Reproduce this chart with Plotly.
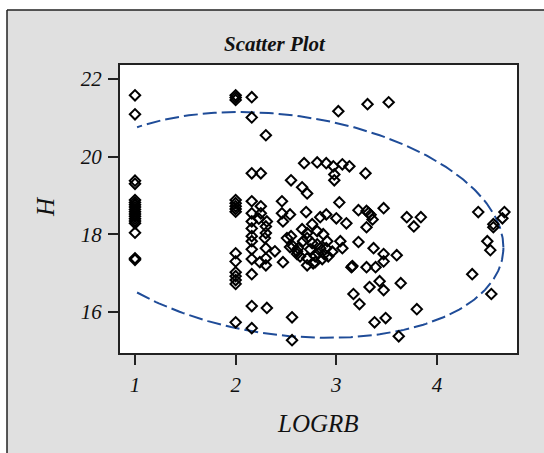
import numpy as np
import plotly.graph_objects as go

# ---- data ----
logrb = (
    [1.0] * 18
    + [2.0] * 15
    + [2.16] * 14
    + [2.25, 2.25, 2.25, 2.23, 2.24]
    + [2.3, 2.31, 2.3, 2.3, 2.29, 2.3, 2.3, 2.3, 2.31]
    + [2.39, 2.46, 2.46, 2.47, 2.47]
    + [2.55, 2.54, 2.55, 2.51, 2.56, 2.56, 2.54]
    + [2.66, 2.71, 2.68, 2.7, 2.66, 2.71, 2.71, 2.67, 2.57, 2.62, 2.61, 2.64, 2.71, 2.71, 2.61, 2.74]
    + [2.76, 2.76, 2.81, 2.79, 2.84, 2.88, 2.91, 2.9, 2.82, 2.77, 2.86, 2.92, 2.81, 2.84, 2.9,
       2.81, 2.9, 2.97, 2.98, 2.98, 2.79, 2.96, 2.87]
    + [3.06, 3.13, 3.03, 3.0, 3.1, 3.04, 3.06, 3.16, 3.02, 3.17, 3.23, 3.22, 3.22, 3.15]
    + [3.29, 3.31, 3.52, 3.3, 3.32, 3.34, 3.47, 3.36, 3.3, 3.37, 3.47, 3.47, 3.3, 3.39, 3.43,
       3.33, 3.47, 3.38, 3.49]
    + [3.7, 3.84, 3.77, 3.6, 3.64, 3.8, 3.62]
    + [4.41, 4.67, 4.65, 4.56, 4.56, 4.5, 4.53, 4.35, 4.54]
)
h = (
    [21.58, 21.09, 19.38, 19.30, 18.88, 18.82, 18.76, 18.70, 18.64, 18.58, 18.52, 18.46,
     18.40, 18.34, 18.28, 18.04, 17.38, 17.34]
    + [21.58, 21.52, 21.46, 18.88, 18.80, 18.72, 18.65, 18.58, 17.51, 17.30, 17.02, 16.92,
       16.82, 16.72, 15.73]
    + [21.53, 21.01, 19.57, 18.85, 18.54, 18.33, 18.15, 17.95, 17.82, 17.61, 17.36, 16.97,
       16.15, 15.58]
    + [19.57, 18.72, 18.54, 18.40, 17.28]
    + [20.55, 18.33, 18.2, 18.03, 17.9, 17.64, 17.38, 17.2, 16.1]
    + [17.56, 18.85, 18.54, 18.33, 17.28]
    + [19.39, 18.51, 17.95, 17.9, 15.86, 15.27, 17.67]
    + [19.21, 19.05, 19.83, 18.57, 18.13, 18.03, 17.9, 17.82, 17.69, 17.64, 17.56, 17.43,
       17.38, 17.2, 17.49, 17.61]
    + [18.26, 17.77, 17.74, 17.43, 17.64, 17.49, 17.82, 17.64, 17.51, 17.25, 17.36, 17.43,
       18.08, 18.44, 18.51, 19.85, 19.83, 19.75, 19.54, 19.39, 17.28, 17.55, 18.0]
    + [19.8, 19.75, 18.82, 18.41, 18.28, 17.82, 17.64, 17.18, 21.17, 16.46, 16.2, 18.62,
       17.8, 17.15]
    + [19.57, 21.35, 21.4, 18.6, 18.55, 18.5, 18.67, 18.38, 18.18, 17.64, 17.49, 17.3,
       17.15, 17.15, 16.79, 16.64, 16.56, 15.73, 15.84]
    + [18.44, 18.44, 18.2, 17.46, 16.74, 16.07, 15.37]
    + [18.57, 18.57, 18.41, 18.26, 18.18, 17.82, 17.59, 16.97, 16.46]
)

x_ticks = [1, 2, 3, 4]
y_ticks = [16, 18, 20, 22]

# prediction ellipse parameters
ell_center = [2.475, 18.24]
ell_cov = [[4.774, -1.27], [-1.27, 8.468]]

# ---- ellipse geometry ----
t = np.linspace(0, 2 * np.pi, 400)
sxx, sxy, syy = ell_cov[0][0], ell_cov[0][1], ell_cov[1][1]
l11 = np.sqrt(sxx)
l21 = sxy / l11
l22 = np.sqrt(syy - l21 ** 2)
ex = ell_center[0] + l11 * np.cos(t)
ey = ell_center[1] + l21 * np.cos(t) + l22 * np.sin(t)
xmin = min(logrb)
ex_l = [v if v >= xmin else None for v in ex]
ey_l = [w if xv >= xmin else None for w, xv in zip(ey, ex)]

SERIF = "Liberation Serif"
GRAY = "#e0e0e0"

fig = go.Figure()
fig.add_trace(go.Scatter(
    x=ex_l, y=ey_l, mode="lines", connectgaps=False,
    line=dict(color="#1f4c98", width=2, dash="14px,5px"),
    hoverinfo="skip", showlegend=False,
))
fig.add_trace(go.Scatter(
    x=logrb, y=h, mode="markers",
    marker=dict(symbol="diamond-open", size=8, color="black", line=dict(width=2, color="black")),
    showlegend=False,
))

W, H = 544, 453
L, R, T, B = 120, 27, 65, 100
pw, ph = W - L - R, H - T - B


def px(xp):
    return (xp - L) / pw


def py(yp):
    return (H - B - yp) / ph


fig.update_layout(
    width=W, height=H,
    margin=dict(l=L, r=R, t=T, b=B),
    paper_bgcolor=GRAY, plot_bgcolor="white",
    xaxis=dict(range=[0.851, 4.795], tickvals=x_ticks, showgrid=False, zeroline=False,
               showline=True, mirror=True, linecolor="#222", linewidth=2,
               ticks="outside", ticklen=10, tickwidth=2, tickcolor="#222",
               ticklabelstandoff=2,
               tickfont=dict(family=SERIF, size=21, color="#111", style="italic")),
    yaxis=dict(range=[14.94, 22.36], tickvals=y_ticks, showgrid=False, zeroline=False,
               showline=True, mirror=True, linecolor="#222", linewidth=2,
               ticks="outside", ticklen=10, tickwidth=2, tickcolor="#222",
               ticklabelstandoff=2,
               tickfont=dict(family=SERIF, size=21, color="#111", style="italic")),
    shapes=[
        dict(type="rect", xref="paper", yref="paper", x0=-0.5, x1=1.2, y0=py(10), y1=1.5,
             fillcolor="white", line=dict(width=0), layer="below"),
        dict(type="rect", xref="paper", yref="paper", x0=-0.5, x1=px(7), y0=-0.5, y1=1.5,
             fillcolor="white", line=dict(width=0), layer="below"),
        dict(type="line", xref="paper", yref="paper", x0=px(7), x1=1.2, y0=py(10), y1=py(10),
             line=dict(color="#222", width=1.5)),
        dict(type="line", xref="paper", yref="paper", x0=px(7), x1=px(7), y0=-0.5, y1=py(10),
             line=dict(color="#222", width=1.5)),
    ],
    annotations=[
        dict(text="Scatter Plot", xref="paper", yref="paper", x=px(275), y=py(44),
             showarrow=False, xanchor="center", yanchor="middle",
             font=dict(family=SERIF, size=21, color="#111", style="italic", weight="bold")),
        dict(text="LOGRB", xref="paper", yref="paper", x=px(318), y=py(423),
             showarrow=False, xanchor="center", yanchor="middle",
             font=dict(family=SERIF, size=25, color="#111", style="italic")),
        dict(text="H", xref="paper", yref="paper", x=px(45), y=py(207), textangle=-90,
             showarrow=False, xanchor="center", yanchor="middle",
             font=dict(family=SERIF, size=25, color="#111", style="italic")),
    ],
)

fig.write_html("out.html")
